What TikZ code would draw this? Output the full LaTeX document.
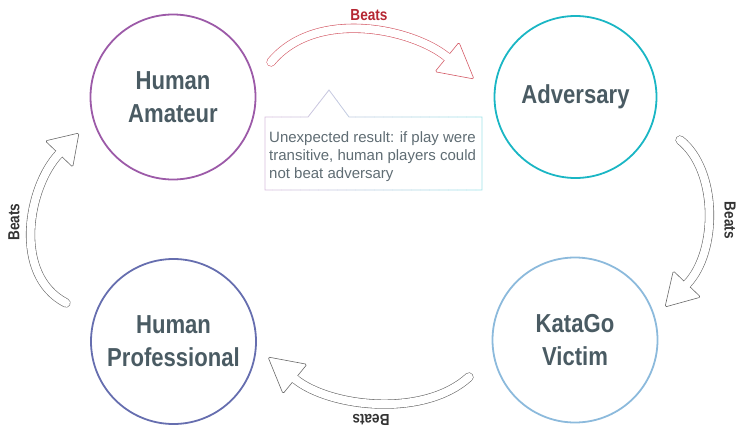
\documentclass[tikz,border=0pt]{standalone}
\usepackage{fontspec}
\setmainfont{Liberation Sans}
\newfontfamily\condfont{Liberation Sans}[FakeStretch=0.85]
\usepackage{xcolor}
\usepackage{tikz}
\usetikzlibrary{calc,positioning}

\definecolor{amateurcol}{RGB}{156,90,168}
\definecolor{adversarycol}{RGB}{26,182,196}
\definecolor{victimcol}{RGB}{140,186,220}
\definecolor{procol}{RGB}{102,110,175}
\definecolor{labelgray}{RGB}{74,91,99}
\definecolor{notegray}{RGB}{95,108,115}
\definecolor{beatsred}{RGB}{181,38,50}
\definecolor{arrowred}{RGB}{212,90,102}
\definecolor{arrowgray}{RGB}{105,105,105}
\definecolor{noteleft}{RGB}{214,190,220}
\definecolor{noteright}{RGB}{160,226,232}

\tikzset{
  player/.style={circle, draw, line width=1.8pt, minimum size=165pt, inner sep=0pt,
    text=labelgray, align=center, font=\condfont\bfseries\fontsize{26}{33}\selectfont},
  beats/.style={font=\condfont\bfseries\fontsize{16}{16}\selectfont, inner sep=0pt},
}

% hollow curved arrow: colour, start, first control, head base, tip
\newcommand{\beatsarrow}[5]{%
  \draw[#1, line width=0.6pt, double=white, double distance=8pt, line cap=round]
    #2 .. controls #3 and ($#4!-45pt!#5$) .. #4;
  \draw[#1, line width=0.6pt, fill=white, rounded corners=1.5pt, line join=round]
    ($#4!19pt!90:#5$) -- #5 -- ($#4!19pt!-90:#5$) -- cycle;
  \draw[white, line width=8pt] ($#4!-1.5pt!#5$) -- ($#4!1.5pt!#5$);
}

\begin{document}
\begin{tikzpicture}[x=1pt, y=-1pt]
\useasboundingbox (0,0) rectangle (738,431);

% PLAYERS
  \node[player, draw=amateurcol]   (amateur)   at (173,  97)   {Human\\Amateur};
  \node[player, draw=adversarycol, minimum size=162pt] (adversary) at (575.5, 97) {Adversary};
  \node[player, draw=victimcol]    (victim)    at (575, 340)   {KataGo\\Victim};
  \node[player, draw=procol]       (pro)       at (173.5, 341.5) {Human\\Professional};

% BEATS ARROWS
  \beatsarrow{arrowred}{(271,62)}{(316,8)}{(447,57)}{(474,79)}
  \beatsarrow{arrowgray}{(680,140)}{(718,170)}{(687,284)}{(665,307)}
  \beatsarrow{arrowgray}{(469,377)}{(424,418)}{(295,379)}{(268,357)}
  \beatsarrow{arrowgray}{(66,303)}{(12,275)}{(59,154)}{(79,133)}

  \node[beats, text=beatsred]            (btop)    at (369, 15)  {Beats};
  \node[beats, text=black!80, rotate=-90] (bright)  at (730, 220.5) {Beats};
  \node[beats, text=black!80, rotate=180] (bbottom) at (371, 420) {Beats};
  \node[beats, text=black!80, rotate=90]  (bleft)   at (14, 222)  {Beats};

% NOTE
  \foreach \i in {0,...,23} {
    \pgfmathsetmacro{\mix}{100-\i*100/23}
    \begin{scope}
      \clip (263+\i*9.25, 85) rectangle (263+\i*9.25+9.5, 193);
      \draw[noteleft!\mix!noteright, line width=0.8pt]
        (265,117) -- (308,117) -- (329,90) -- (349,117) -- (482,117)
        -- (482,190) -- (265,190) -- cycle;
    \end{scope}
  }
  \node[anchor=north west, inner sep=0pt, align=left, text=notegray,
        font=\fontsize{15}{18}\selectfont] (note) at (269,131)
    {Unexpected result: if play were\\transitive, human players could\\not beat adversary};

\end{tikzpicture}
\end{document}
